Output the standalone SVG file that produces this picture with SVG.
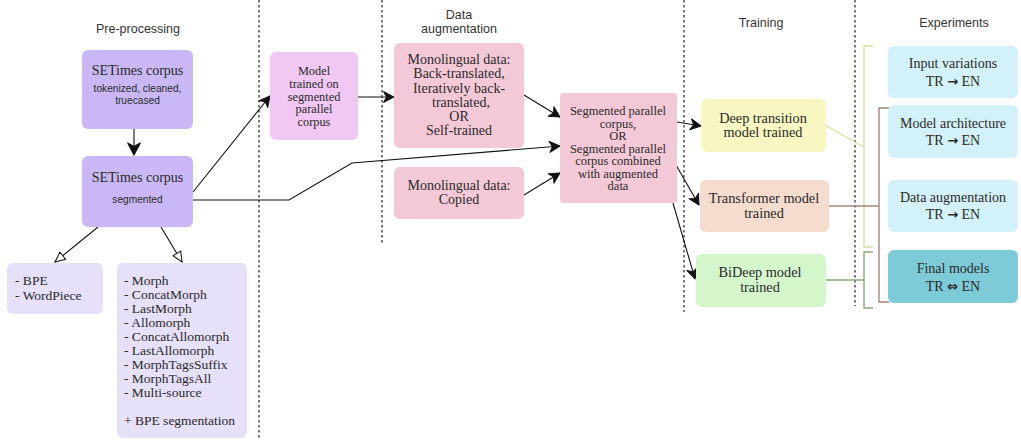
<svg xmlns="http://www.w3.org/2000/svg" width="1021" height="440" viewBox="0 0 1021 440">
<defs>
<style>
.hd{font-family:"Liberation Sans",Arial,sans-serif;font-size:12.5px;fill:#333;text-anchor:middle}
.sv{font-family:"Liberation Serif","Times New Roman",serif;fill:#2a2a2a;text-anchor:middle}
.ss{font-family:"Liberation Sans",Arial,sans-serif;fill:#2a2a2a;text-anchor:middle}
.ls{font-family:"Liberation Serif","Times New Roman",serif;fill:#2a2a2a;font-size:13.5px}
.ar{font-family:"DejaVu Sans",sans-serif;font-weight:bold;font-size:13px}
.dash{stroke:#222;stroke-width:1.2;stroke-dasharray:2.5 2.5;fill:none}
.con{stroke:#111;stroke-width:1.1;fill:none}
</style>
<marker id="ch" viewBox="0 0 14 14" markerWidth="14" markerHeight="14" refX="12" refY="7" orient="auto" markerUnits="userSpaceOnUse">
<path d="M1.5,1.5 L12,7 L1.5,12.5 L4.5,7 Z" fill="#111" stroke="#111" stroke-width="1" stroke-linejoin="round"/>
</marker>
<marker id="chb" viewBox="0 0 14 14" markerWidth="16" markerHeight="16" refX="12" refY="7" orient="auto" markerUnits="userSpaceOnUse">
<path d="M1.5,1.5 L12,7 L1.5,12.5 L4.5,7 Z" fill="#111" stroke="#111" stroke-width="1" stroke-linejoin="round"/>
</marker>
<marker id="tri" viewBox="0 0 12 12" markerWidth="12" markerHeight="12" refX="11" refY="6" orient="auto" markerUnits="userSpaceOnUse">
<path d="M1,1.5 L11,6 L1,10.5 Z" fill="#fff" stroke="#111" stroke-width="1"/>
</marker>
</defs>
<rect width="1021" height="440" fill="#fff"/>

<g id="dividers">
<line class="dash" x1="259" y1="0" x2="259" y2="440"/>
<line class="dash" x1="382" y1="0" x2="382" y2="244"/>
<line class="dash" x1="684" y1="0" x2="684" y2="312"/>
<line class="dash" x1="855" y1="0" x2="855" y2="306"/>
</g>

<g id="headers">
<text class="hd" x="138" y="33">Pre-processing</text>
<text class="hd" x="459" y="19">Data</text>
<text class="hd" x="459" y="33">augmentation</text>
<text class="hd" x="761" y="27">Training</text>
<text class="hd" x="954" y="27">Experiments</text>
</g>

<g id="connectors">
<line class="con" x1="134" y1="129" x2="134" y2="155" marker-end="url(#chb)" stroke-width="1.4"/>
<line class="con" x1="98" y1="227" x2="55" y2="262" marker-end="url(#tri)"/>
<line class="con" x1="161" y1="227" x2="182" y2="262" marker-end="url(#tri)"/>
<line class="con" x1="193" y1="192" x2="270" y2="96" marker-end="url(#ch)"/>
<polyline class="con" points="193,200 289,200 352,163 560,146" marker-end="url(#ch)"/>
<line class="con" x1="358" y1="97" x2="394" y2="97" marker-end="url(#ch)"/>
<line class="con" x1="524" y1="95" x2="560" y2="117" marker-end="url(#ch)"/>
<line class="con" x1="524" y1="195" x2="560" y2="173" marker-end="url(#ch)"/>
<line class="con" x1="677" y1="122" x2="701" y2="126" marker-end="url(#ch)"/>
<line class="con" x1="676" y1="165" x2="699" y2="205" marker-end="url(#ch)"/>
<line class="con" x1="673" y1="203" x2="695" y2="279" marker-end="url(#ch)"/>
<line x1="825" y1="125" x2="864" y2="147" stroke="#d8e0a0" stroke-width="1.2"/>
<polyline points="873,46 864,46 864,247 873,247" fill="none" stroke="#d8e0a0" stroke-width="1.4"/>
<line x1="829" y1="206" x2="879" y2="206" stroke="#a3877a" stroke-width="1.3"/>
<polyline points="889,108 879,108 879,302 889,302" fill="none" stroke="#a3877a" stroke-width="1.4"/>
<line x1="825" y1="280" x2="864" y2="280" stroke="#8fa878" stroke-width="1.3"/>
<polyline points="873,252 864,252 864,308 873,308" fill="none" stroke="#8fa878" stroke-width="1.4"/>
</g>

<g id="setimes1">
<rect x="82" y="50" width="111" height="79" rx="6" fill="#c9b8f5"/>
<text class="sv" x="137.5" y="75" font-size="14">SETimes corpus</text>
<text class="ss" x="137.5" y="92" font-size="10.2">tokenized, cleaned,</text>
<text class="ss" x="137.5" y="104" font-size="10.2">truecased</text>
</g>
<g id="setimes2">
<rect x="82" y="156" width="111" height="71" rx="6" fill="#c9b8f5"/>
<text class="sv" x="137.5" y="182" font-size="14">SETimes corpus</text>
<text class="ss" x="137.5" y="203" font-size="10.2">segmented</text>
</g>
<g id="bpe">
<rect x="7" y="263" width="96" height="51" rx="6" fill="#e6e0f8"/>
<text class="ls" x="15" y="285">- BPE</text>
<text class="ls" x="15" y="300">- WordPiece</text>
</g>
<g id="morph">
<rect x="117" y="263" width="130" height="175" rx="6" fill="#e6e0f8"/>
<text class="ls" x="124" y="285">- Morph</text>
<text class="ls" x="124" y="299">- ConcatMorph</text>
<text class="ls" x="124" y="313">- LastMorph</text>
<text class="ls" x="124" y="327">- Allomorph</text>
<text class="ls" x="124" y="341">- ConcatAllomorph</text>
<text class="ls" x="124" y="355">- LastAllomorph</text>
<text class="ls" x="124" y="369">- MorphTagsSuffix</text>
<text class="ls" x="124" y="383">- MorphTagsAll</text>
<text class="ls" x="124" y="397">- Multi-source</text>
<text class="ls" x="124" y="425">+ BPE segmentation</text>
</g>
<g id="model">
<rect x="270" y="52" width="88" height="88" rx="6" fill="#f0c8f3"/>
<text class="sv" x="314" y="75" font-size="12.3">Model</text>
<text class="sv" x="314" y="87.75" font-size="12.3">trained on</text>
<text class="sv" x="314" y="100.5" font-size="12.3">segmented</text>
<text class="sv" x="314" y="113.25" font-size="12.3">parallel</text>
<text class="sv" x="314" y="126" font-size="12.3">corpus</text>
</g>
<g id="mono1">
<rect x="394" y="43" width="130" height="105" rx="6" fill="#f4c9d7"/>
<text class="sv" x="459" y="64" font-size="14">Monolingual data:</text>
<text class="sv" x="459" y="78" font-size="14">Back-translated,</text>
<text class="sv" x="459" y="93" font-size="14">Iteratively back-</text>
<text class="sv" x="461" y="107" font-size="14">translated,</text>
<text class="sv" x="459" y="121" font-size="14">OR</text>
<text class="sv" x="459" y="135" font-size="14">Self-trained</text>
</g>
<g id="mono2">
<rect x="394" y="167" width="130" height="52" rx="6" fill="#f4c9d7"/>
<text class="sv" x="459" y="190" font-size="14">Monolingual data:</text>
<text class="sv" x="459" y="204" font-size="14">Copied</text>
</g>
<g id="segmented">
<rect x="560" y="93" width="117" height="110" rx="3" fill="#f4c9d7"/>
<text class="sv" x="618" y="115" font-size="12.5">Segmented parallel</text>
<text class="sv" x="618" y="127.5" font-size="12.5">corpus,</text>
<text class="sv" x="618" y="140" font-size="12.5">OR</text>
<text class="sv" x="618" y="152.5" font-size="12.5">Segmented parallel</text>
<text class="sv" x="618" y="165" font-size="12.5">corpus combined</text>
<text class="sv" x="618" y="177.5" font-size="12.5">with augmented</text>
<text class="sv" x="618" y="190" font-size="12.5">data</text>
</g>
<g id="deep">
<rect x="701" y="99" width="125" height="53" rx="6" fill="#f8f7c2"/>
<text class="sv" x="763" y="123" font-size="14.3">Deep transition</text>
<text class="sv" x="763" y="137" font-size="14.3">model trained</text>
</g>
<g id="transformer">
<rect x="700" y="180" width="129" height="52" rx="6" fill="#f5dccf"/>
<text class="sv" x="764" y="203" font-size="14.3">Transformer model</text>
<text class="sv" x="764" y="218" font-size="14.3">trained</text>
</g>
<g id="bideep">
<rect x="696" y="254" width="130" height="53" rx="6" fill="#d3f7cb"/>
<text class="sv" x="760" y="277" font-size="14.3">BiDeep model</text>
<text class="sv" x="760" y="292" font-size="14.3">trained</text>
</g>
<g id="exp-input">
<rect x="888" y="46" width="130" height="52" rx="6" fill="#d3f1f8"/>
<text class="sv" x="953" y="68" font-size="14">Input variations</text>
<text class="sv" x="953" y="86" font-size="14">TR <tspan class="ar">→</tspan> EN</text>
</g>
<g id="exp-arch">
<rect x="888" y="105" width="130" height="53" rx="6" fill="#d3f1f8"/>
<text class="sv" x="953" y="128" font-size="14">Model architecture</text>
<text class="sv" x="953" y="145" font-size="14">TR <tspan class="ar">→</tspan> EN</text>
</g>
<g id="exp-aug">
<rect x="888" y="180" width="130" height="52" rx="6" fill="#d3f1f8"/>
<text class="sv" x="953" y="202" font-size="14">Data augmentation</text>
<text class="sv" x="953" y="219" font-size="14">TR <tspan class="ar">→</tspan> EN</text>
</g>
<g id="exp-final">
<rect x="888" y="250" width="130" height="53" rx="6" fill="#7ecbd8"/>
<text class="sv" x="953" y="273" font-size="14">Final models</text>
<text class="sv" x="953" y="291" font-size="14">TR <tspan class="ar">⇔</tspan> EN</text>
</g>
</svg>
